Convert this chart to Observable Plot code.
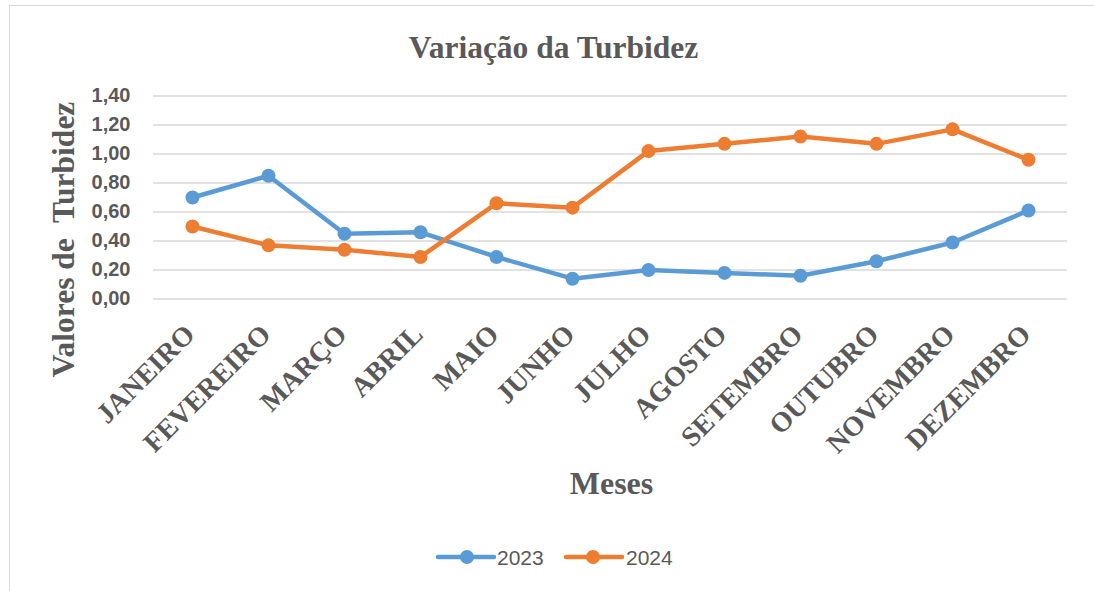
<!DOCTYPE html>
<html><head><meta charset="utf-8">
<script src="https://cdn.jsdelivr.net/npm/d3@7"></script>
<script src="https://cdn.jsdelivr.net/npm/@observablehq/plot@0.6"></script>
<style>
body{margin:0;background:#fff;}
#wrap{position:relative;width:1094px;height:591px;overflow:hidden;background:#fff;}
#border{position:absolute;left:9px;top:5px;width:1200px;height:800px;border:1.5px solid #d9d9d9;box-sizing:border-box;}
#chart{position:absolute;left:0;top:0;}
#legend{position:absolute;left:0;top:537px;}
</style></head>
<body><div id="wrap"><div id="border"></div><div id="chart"></div><svg id="legend" width="1094" height="40"></svg></div>
<script>
const months = ["JANEIRO","FEVEREIRO","MARÇO","ABRIL","MAIO","JUNHO","JULHO","AGOSTO","SETEMBRO","OUTUBRO","NOVEMBRO","DEZEMBRO"];
const v2023 = [0.70,0.85,0.45,0.46,0.29,0.14,0.20,0.18,0.16,0.26,0.39,0.61];
const v2024 = [0.50,0.37,0.34,0.29,0.66,0.63,1.02,1.07,1.12,1.07,1.17,0.96];
const yTicks = [0,0.2,0.4,0.6,0.8,1.0,1.2,1.4];
const seriesNames = ["2023","2024"];
const seriesColors = ["#5b9bd5","#ed7d31"];
const titleText = "Variação da Turbidez";
const yLabel = "Valores de  Turbidez";
const xLabel = "Meses";

const rows = [];
[v2023, v2024].forEach((vals, s) => vals.forEach((v, i) => rows.push({month: months[i], value: v, series: seriesNames[s]})));

const serif = "'Liberation Serif','Times New Roman',serif";
const sans = "'Liberation Sans',Arial,sans-serif";
const grey = "#595959";

const chart = Plot.plot({
  width: 1094, height: 591,
  marginTop: 95.5, marginBottom: 292.5, marginLeft: 153, marginRight: 27,
  style: {background: "transparent", overflow: "visible"},
  x: {type: "point", domain: months, padding: 0.5, axis: null},
  y: {domain: [0, 1.4], axis: null},
  color: {domain: seriesNames, range: seriesColors},
  marks: [
    Plot.gridY(yTicks, {stroke: "#d9d9d9", strokeOpacity: 1, strokeWidth: 1.5}),
    Plot.axisY(yTicks, {tickSize: 0, tickPadding: 23, label: null, tickFormat: d => d.toFixed(2).replace(".", ","), fontSize: 20, fontWeight: "bold", fontFamily: sans, fill: grey}),
    Plot.text(months, {x: d => d, frameAnchor: "bottom", rotate: -45, textAnchor: "end", lineAnchor: "bottom", dx: 4, dy: 37, fontSize: 28, fontWeight: "bold", fontFamily: serif, fill: grey}),
    Plot.line(rows, {x: "month", y: "value", z: "series", stroke: "series", strokeWidth: 4.5}),
    Plot.dot(rows, {x: "month", y: "value", fill: "series", r: 7}),
    Plot.text([titleText], {frameAnchor: "top", textAnchor: "middle", dx: -57, dy: -38.5, lineAnchor: "bottom", fontSize: 31.5, fontWeight: "bold", fontFamily: serif, fill: grey}),
    Plot.text([yLabel], {frameAnchor: "left", textAnchor: "middle", rotate: -90, dx: -80, dy: 42, lineAnchor: "bottom", fontSize: 31.5, fontWeight: "bold", fontFamily: serif, fill: grey}),
    Plot.text([xLabel], {frameAnchor: "bottom", textAnchor: "middle", dx: 1, dy: 194.5, lineAnchor: "bottom", fontSize: 32, fontWeight: "bold", fontFamily: serif, fill: grey})
  ]
});
document.getElementById("chart").appendChild(chart);

// legend
const lg = d3.select("#legend");
const items = [{x0: 438, x1: 494, cx: 467, tx: 497}, {x0: 566, x1: 622, cx: 593, tx: 626}];
seriesNames.forEach((name, i) => {
  const it = items[i];
  lg.append("line").attr("x1", it.x0).attr("x2", it.x1).attr("y1", 20).attr("y2", 20)
    .attr("stroke", seriesColors[i]).attr("stroke-width", 4.5).attr("stroke-linecap", "round");
  lg.append("circle").attr("cx", it.cx).attr("cy", 20).attr("r", 7).attr("fill", seriesColors[i]);
  lg.append("text").attr("x", it.tx).attr("y", 28).attr("font-family", sans).attr("font-size", 21)
    .attr("fill", grey).text(name);
});
</script></body></html>
